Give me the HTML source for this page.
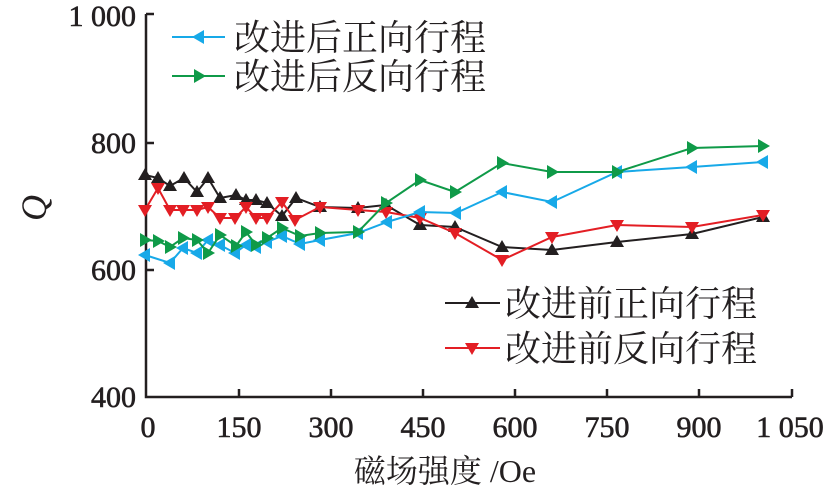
<!DOCTYPE html>
<html><head><meta charset="utf-8"><style>html,body{margin:0;padding:0;background:#fff}</style></head>
<body>
<svg width="834" height="492" viewBox="0 0 834 492" xmlns="http://www.w3.org/2000/svg">
<defs>
<path id="tu" d="M0,-7 L7,5 L-7,5 Z"/>
<path id="td" d="M0,7 L7,-5 L-7,-5 Z"/>
<path id="tl" d="M-7,0 L5,-7 L5,7 Z"/>
<path id="tr" d="M7,0 L-5,-7 L-5,7 Z"/>
</defs>
<g stroke="#231f20" stroke-width="2.5" fill="none">
<path d="M146,14 L146,397 L792,397"/>
<path d="M146,14 H154 M146,143 H154 M146,270 H154"/>
<path d="M239,397 V389 M331,397 V389 M423,397 V389 M515,397 V389 M607,397 V389 M699,397 V389 M792,397 V389"/>
</g>
<g font-family="Liberation Serif, serif" font-size="30" fill="#231f20" stroke="#231f20" stroke-width="0.6" text-anchor="end">
<text x="136" y="26">1 000</text>
<text x="136" y="153">800</text>
<text x="136" y="280">600</text>
<text x="136" y="407">400</text>
</g>
<g font-family="Liberation Serif, serif" font-size="30" fill="#231f20" stroke="#231f20" stroke-width="0.6" text-anchor="middle">
<text x="148" y="437">0</text>
<text x="239" y="437">150</text>
<text x="331" y="437">300</text>
<text x="423" y="437">450</text>
<text x="515" y="437">600</text>
<text x="607" y="437">750</text>
<text x="699" y="437">900</text>
<text x="790" y="437">1 050</text>
</g>
<text x="445" y="482" text-anchor="middle" font-family="Liberation Serif, 'Noto Serif CJK SC', serif" font-size="32" fill="#231f20">磁场强度 /Oe</text>
<text x="36" y="218" text-anchor="middle" font-family="Liberation Serif, serif" font-style="italic" font-size="36" fill="#231f20" transform="rotate(-90 36 208)">Q</text>

<polyline fill="none" stroke="#231f20" stroke-width="2" points="145,175 158,178 170,186 184,178 197,192 208,178 220,198 236,195 246,200 256,200 267,203 282,216 296,198 320,207 358,208 386,205 420,225 455,227 502,247 552,250 617,242 692,234 763,217"/>
<g fill="#231f20">
<use href="#tu" x="145" y="175"/><use href="#tu" x="158" y="178"/><use href="#tu" x="170" y="186"/><use href="#tu" x="184" y="178"/><use href="#tu" x="197" y="192"/><use href="#tu" x="208" y="178"/><use href="#tu" x="220" y="198"/><use href="#tu" x="236" y="195"/><use href="#tu" x="246" y="200"/><use href="#tu" x="256" y="200"/><use href="#tu" x="267" y="203"/><use href="#tu" x="282" y="216"/><use href="#tu" x="296" y="198"/><use href="#tu" x="320" y="207"/><use href="#tu" x="358" y="208"/><use href="#tu" x="386" y="205"/><use href="#tu" x="420" y="225"/><use href="#tu" x="455" y="227"/><use href="#tu" x="502" y="247"/><use href="#tu" x="552" y="250"/><use href="#tu" x="617" y="242"/><use href="#tu" x="692" y="234"/><use href="#tu" x="763" y="217"/>
</g>
<polyline fill="none" stroke="#e31e24" stroke-width="2" points="145,210 158,188 170,210 183,210 197,210 208,207 220,218 235,218 246,207 256,218 267,218 282,202 295,220 320,207 358,210 386,212 420,218 455,233 502,260 552,237 617,225 692,227 763,215"/>
<g fill="#e31e24">
<use href="#td" x="145" y="210"/><use href="#td" x="158" y="188"/><use href="#td" x="170" y="210"/><use href="#td" x="183" y="210"/><use href="#td" x="197" y="210"/><use href="#td" x="208" y="207"/><use href="#td" x="220" y="218"/><use href="#td" x="235" y="218"/><use href="#td" x="246" y="207"/><use href="#td" x="256" y="218"/><use href="#td" x="267" y="218"/><use href="#td" x="282" y="202"/><use href="#td" x="295" y="220"/><use href="#td" x="320" y="207"/><use href="#td" x="358" y="210"/><use href="#td" x="386" y="212"/><use href="#td" x="420" y="218"/><use href="#td" x="455" y="233"/><use href="#td" x="502" y="260"/><use href="#td" x="552" y="237"/><use href="#td" x="617" y="225"/><use href="#td" x="692" y="227"/><use href="#td" x="763" y="215"/>
</g>
<polyline fill="none" stroke="#17a9e8" stroke-width="2" points="145,255 170,263 183,248 197,253 208,240 220,245 235,253 246,245 256,247 267,242 282,236 300,244 320,240 358,233 387,222 420,212 456,213 502,192 552,202 617,172 692,167 763,162"/>
<g fill="#17a9e8">
<use href="#tl" x="145" y="255"/><use href="#tl" x="170" y="263"/><use href="#tl" x="183" y="248"/><use href="#tl" x="197" y="253"/><use href="#tl" x="208" y="240"/><use href="#tl" x="220" y="245"/><use href="#tl" x="235" y="253"/><use href="#tl" x="246" y="245"/><use href="#tl" x="256" y="247"/><use href="#tl" x="267" y="242"/><use href="#tl" x="282" y="236"/><use href="#tl" x="300" y="244"/><use href="#tl" x="320" y="240"/><use href="#tl" x="358" y="233"/><use href="#tl" x="387" y="222"/><use href="#tl" x="420" y="212"/><use href="#tl" x="456" y="213"/><use href="#tl" x="502" y="192"/><use href="#tl" x="552" y="202"/><use href="#tl" x="617" y="172"/><use href="#tl" x="692" y="167"/><use href="#tl" x="763" y="162"/>
</g>
<polyline fill="none" stroke="#0f9a48" stroke-width="2" points="145,240 158,241 170,247 183,238 197,240 208,253 220,235 236,246 246,232 256,245 267,238 282,228 300,236 320,233 358,232 386,203 420,180 455,192 502,163 552,172 617,172 692,148 763,146"/>
<g fill="#0f9a48">
<use href="#tr" x="145" y="240"/><use href="#tr" x="158" y="241"/><use href="#tr" x="170" y="247"/><use href="#tr" x="183" y="238"/><use href="#tr" x="197" y="240"/><use href="#tr" x="208" y="253"/><use href="#tr" x="220" y="235"/><use href="#tr" x="236" y="246"/><use href="#tr" x="246" y="232"/><use href="#tr" x="256" y="245"/><use href="#tr" x="267" y="238"/><use href="#tr" x="282" y="228"/><use href="#tr" x="300" y="236"/><use href="#tr" x="320" y="233"/><use href="#tr" x="358" y="232"/><use href="#tr" x="386" y="203"/><use href="#tr" x="420" y="180"/><use href="#tr" x="455" y="192"/><use href="#tr" x="502" y="163"/><use href="#tr" x="552" y="172"/><use href="#tr" x="617" y="172"/><use href="#tr" x="692" y="148"/><use href="#tr" x="763" y="146"/>
</g>

<line x1="172" y1="37" x2="225" y2="37" stroke="#17a9e8" stroke-width="2"/><use href="#tl" x="199" y="37" fill="#17a9e8"/>
<line x1="172" y1="76" x2="225" y2="76" stroke="#0f9a48" stroke-width="2"/><use href="#tr" x="199" y="76" fill="#0f9a48"/>
<line x1="445" y1="303" x2="500" y2="303" stroke="#231f20" stroke-width="2"/><use href="#tu" x="472" y="303" fill="#231f20"/>
<line x1="445" y1="348" x2="500" y2="348" stroke="#e31e24" stroke-width="2"/><use href="#td" x="472" y="348" fill="#e31e24"/>
<g font-family="Liberation Serif, 'Noto Serif CJK SC', serif" font-size="36" fill="#231f20">
<text x="234" y="50">改进后正向行程</text>
<text x="234" y="89">改进后反向行程</text>
<text x="505" y="316">改进前正向行程</text>
<text x="505" y="361">改进前反向行程</text>
</g>
</svg>
</body></html>
